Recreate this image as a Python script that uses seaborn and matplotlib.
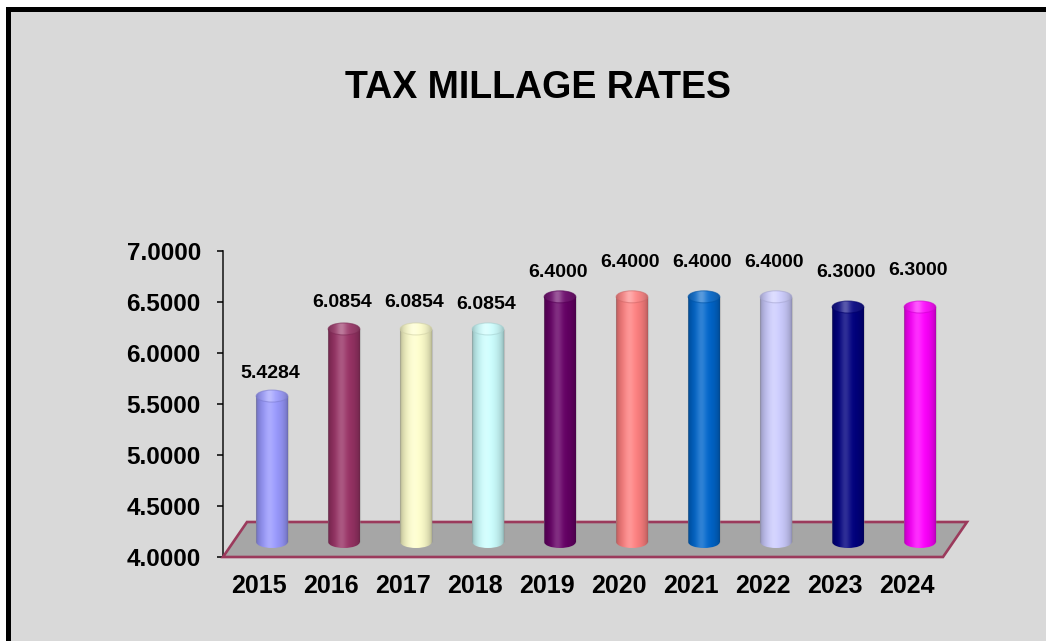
import numpy as np
import matplotlib
matplotlib.use("Agg")
import matplotlib.pyplot as plt
from matplotlib.patches import Rectangle, Ellipse, Polygon
import seaborn as sns

# ---- data -------------------------------------------------------------
years = ["2015", "2016", "2017", "2018", "2019", "2020", "2021", "2022", "2023", "2024"]
rates = [5.4284, 6.0854, 6.0854, 6.0854, 6.4000, 6.4000, 6.4000, 6.4000, 6.3000, 6.3000]
bar_colors = ["#9999FF", "#993366", "#FFFFCC", "#CCFFFF", "#660066",
              "#FF8080", "#0066CC", "#CCCCFF", "#000080", "#FF00FF"]
y_ticks = [4.0, 4.5, 5.0, 5.5, 6.0, 6.5, 7.0]
title = "TAX MILLAGE RATES"

# label lift above each cylinder cap (pixels)
label_lift_px = [17, 20, 20, 18, 18, 28, 28, 28, 29, 31]

# ---- figure geometry --------------------------------------------------
W, H = 1046, 641
sns.set_theme(style="white")
plt.rcParams["font.family"] = ["Liberation Sans", "DejaVu Sans"]

fig = plt.figure(figsize=(W / 100, H / 100), dpi=100, facecolor="white")
panel = Rectangle((8 / W, -0.1), 1.2, (H - 8.5) / H + 0.1, transform=fig.transFigure,
                  facecolor="#d9d9d9", edgecolor="black", linewidth=3.6, zorder=-5)
fig.patches.append(panel)

ax_left, ax_right, ax_bottom, ax_top = 223, 943, 557, 250.5
ax = fig.add_axes([ax_left / W, (H - ax_bottom) / H,
                   (ax_right - ax_left) / W, (ax_bottom - ax_top) / H])
ax.set_facecolor("none")

YMIN, YMAX = 4.0, 7.0
PX_Y = (ax_bottom - ax_top) / (YMAX - YMIN)
PX_X = (ax_right - ax_left) / len(years)

# depth offsets of the 3D look
dx_mid, dy_mid = 13 / PX_X, 15 / PX_Y
dx_back, dy_back = 24 / PX_X, 35 / PX_Y
cap_h = 12 / PX_Y

sns.barplot(x=years, y=rates, hue=years, palette=bar_colors, legend=False,
            width=0.44, saturation=1, ax=ax)
bars = sorted([p for p in ax.patches if isinstance(p, Rectangle)],
              key=lambda p: p.get_x())

# floor of the 3D chart
floor = Polygon([(-0.5, YMIN), (len(years) - 0.5, YMIN),
                 (len(years) - 0.5 + dx_back, YMIN + dy_back),
                 (-0.5 + dx_back, YMIN + dy_back)],
                closed=True, facecolor="#a6a6a6", edgecolor="#9b3a5c",
                linewidth=1.9, clip_on=False, zorder=1)
ax.add_patch(floor)

t = np.linspace(0, 1, 240)
body_shade = 0.66 + 0.34 * np.sin(np.pi * t) ** 0.5
spec = np.exp(-((t - 0.42) / 0.16) ** 2)


def gradient(rgb, lift=0.0, glow=0.18):
    c = rgb[None, :] * body_shade[:, None]
    c = c + (1 - c) * glow * spec[:, None]
    c = c + (1 - c) * lift
    return np.clip(c, 0, 1)[None, :, :]


for bar, lift in zip(bars, label_lift_px):
    rgb = np.array(bar.get_facecolor()[:3])
    value = bar.get_height()
    x0 = bar.get_x() + dx_mid
    w = bar.get_width()
    base = YMIN + dy_mid
    top = value + dy_mid
    bar.set_x(x0)
    bar.set_y(base)
    bar.set_height(top - base)
    bar.set_facecolor("none")
    bar.set_edgecolor("none")

    grad = gradient(rgb)
    body = ax.imshow(grad, extent=(x0, x0 + w, base - cap_h, top), aspect="auto",
                     interpolation="bilinear", zorder=3)
    body.set_clip_path(bar)

    bottom_cap = Ellipse((x0 + w / 2, base), w, cap_h, facecolor="none",
                         edgecolor="none")
    ax.add_patch(bottom_cap)
    bimg = ax.imshow(grad, extent=(x0, x0 + w, base - cap_h, top), aspect="auto",
                     interpolation="bilinear", zorder=3)
    bimg.set_clip_path(bottom_cap)

    # soft outline along the sides of the cylinder
    for xs in (x0, x0 + w):
        ax.plot([xs, xs], [base, top], color="#8c8c8c", alpha=0.35, lw=0.8,
                zorder=3.5, solid_capstyle="butt")

    top_cap = Ellipse((x0 + w / 2, top), w, cap_h, facecolor="none",
                      edgecolor=tuple(rgb * 0.82), linewidth=0.8, alpha=0.6, zorder=5)
    ax.add_patch(top_cap)
    timg = ax.imshow(gradient(rgb, lift=0.07, glow=0.3),
                     extent=(x0, x0 + w, top - cap_h, top + cap_h),
                     aspect="auto", interpolation="bilinear", zorder=4)
    timg.set_clip_path(top_cap)

    ax.annotate(f"{value:.4f}", xy=(x0 + w / 2, top + cap_h / 2),
                xytext=(-1.5, lift * 0.72), textcoords="offset points",
                ha="center", va="center", fontsize=14, fontweight="bold",
                color="black", annotation_clip=False, zorder=6)

ax.set_xlim(-0.5, len(years) - 0.5)
ax.set_ylim(YMIN, YMAX)
ax.set_xticks(range(len(years)))
ax.set_xticklabels(years, fontsize=18, fontweight="bold")
ax.set_yticks(y_ticks)
ax.set_yticklabels([f"{v:.4f}" for v in y_ticks], fontsize=17.5, fontweight="bold")
ax.set_xlabel("")
ax.set_ylabel("")
ax.tick_params(axis="x", length=0, pad=12, colors="black")
ax.tick_params(axis="y", length=4, width=1.1, direction="out", pad=12, colors="black",
               left=True)
for side in ("top", "right", "bottom"):
    ax.spines[side].set_visible(False)
ax.spines["left"].set_color("#222222")
ax.spines["left"].set_linewidth(1.2)
ax.spines["left"].set_zorder(0.5)

fig.text(538 / W, 1 - 88 / H, title, ha="center", va="center",
         fontsize=27, fontweight="bold", color="black")

fig.savefig("out.png", dpi=100, facecolor=fig.get_facecolor())
